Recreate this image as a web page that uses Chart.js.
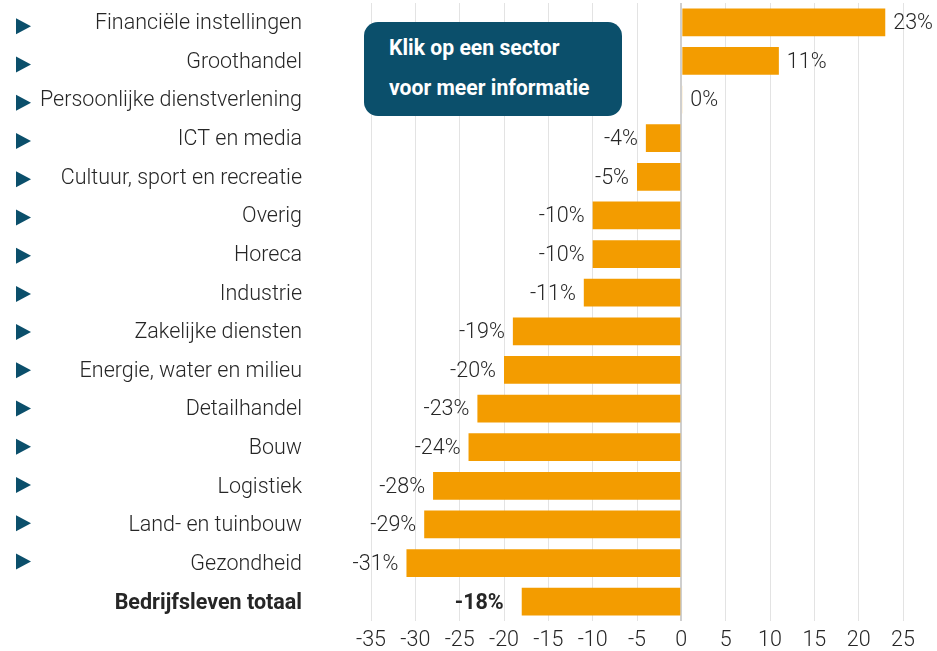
<!DOCTYPE html>
<html>
<head>
<meta charset="utf-8">
<script src="https://cdn.jsdelivr.net/npm/chart.js@4"></script>
<style>
  body { margin: 0; background: #fff; }
  #wrap { position: relative; width: 937px; height: 651px; }
  #grafico { display: block; }
  #info {
    position: absolute; left: 364px; top: 22px; width: 258px; height: 94px;
    background: #0b4f6b; border-radius: 14px; color: #fff; box-sizing: border-box;
    padding: 6px 0 0 25px; font: 700 21.2px Roboto, sans-serif; line-height: 40px;
  }
</style>
</head>
<body>
<div id="wrap">
  <canvas id="grafico" width="937" height="651"></canvas>
  <div id="info">Klik op een sector<br>voor meer informatie</div>
</div>
<script>
const sectoren = ['Financiële instellingen', 'Groothandel', 'Persoonlijke dienstverlening', 'ICT en media',
  'Cultuur, sport en recreatie', 'Overig', 'Horeca', 'Industrie', 'Zakelijke diensten',
  'Energie, water en milieu', 'Detailhandel', 'Bouw', 'Logistiek', 'Land- en tuinbouw',
  'Gezondheid', 'Bedrijfsleven totaal'];
const waarden = [23, 11, 0.1, -4, -5, -10, -10, -11, -19, -20, -23, -24, -28, -29, -31, -18];
const labels = ['23%', '11%', '0%', '-4%', '-5%', '-10%', '-10%', '-11%', '-19%', '-20%', '-23%',
  '-24%', '-28%', '-29%', '-31%', '-18%'];
const totaal = sectoren.length - 1;

const oranje = '#f39c00';
const blauw = '#0b4f6b';
const tekst = '#262626';
const fontSize = 21.5;

// waarde-labels naast de balken
const labelPlugin = {
  id: 'labelPlugin',
  afterDatasetsDraw(chart) {
    const ctx = chart.ctx;
    const meta = chart.getDatasetMeta(0);
    ctx.save();
    ctx.textBaseline = 'middle';
    ctx.fillStyle = tekst;
    meta.data.forEach((bar, i) => {
      ctx.font = (i === totaal ? '700 ' : '300 ') + fontSize + 'px Roboto';
      if (waarden[i] >= 0) {
        ctx.textAlign = 'left';
        ctx.fillText(labels[i], bar.x + 8, bar.y + 1.5);
      } else {
        ctx.textAlign = 'right';
        ctx.fillText(labels[i], bar.x - (i === totaal ? 18 : 8), bar.y + 1.5);
      }
    });
    ctx.restore();
  }
};

// pijltjes voor de sectoren
const pijlPlugin = {
  id: 'pijlPlugin',
  afterDraw(chart) {
    const ctx = chart.ctx;
    const y = chart.scales.y;
    ctx.save();
    ctx.fillStyle = blauw;
    sectoren.forEach((s, i) => {
      if (i === totaal) return;
      const py = y.getPixelForValue(i) + 4 - i * 0.4;
      ctx.beginPath();
      ctx.moveTo(16, py - 8);
      ctx.lineTo(31, py);
      ctx.lineTo(16, py + 8);
      ctx.closePath();
      ctx.fill();
    });
    ctx.restore();
  }
};

new Chart(document.querySelector('#grafico'), {
  type: 'bar',
  data: {
    labels: sectoren,
    datasets: [{
      data: waarden,
      backgroundColor: oranje,
      categoryPercentage: 0.72,
      barPercentage: 1
    }]
  },
  options: {
    indexAxis: 'y',
    responsive: false,
    animation: false,
    layout: { padding: { top: 3, right: 34, left: 0, bottom: 0 } },
    plugins: { legend: { display: false }, tooltip: { enabled: false } },
    scales: {
      x: {
        min: -35,
        max: 25,
        ticks: {
          stepSize: 5,
          color: tekst,
          padding: 7,
          font: { family: 'Roboto', size: fontSize, weight: 300 }
        },
        grid: {
          drawTicks: false,
          color: (c) => c.tick && c.tick.value === 0 ? '#cfcfcf' : '#e3e3e3',
          lineWidth: (c) => c.tick && c.tick.value === 0 ? 2 : 1
        },
        border: { display: false },
        afterFit: (scale) => { scale.height = 30; }
      },
      y: {
        ticks: {
          color: tekst,
          padding: 69,
          labelOffset: 1.5,
          font: (c) => ({ family: 'Roboto', size: fontSize, weight: c.index === totaal ? 700 : 300 })
        },
        grid: { display: false, drawTicks: false },
        border: { display: false },
        afterFit: (scale) => {
          scale.width = 371;
          scale.paddingTop = 0;
          scale.paddingBottom = 0;
        }
      }
    }
  },
  plugins: [labelPlugin, pijlPlugin]
});
</script>
</body>
</html>
